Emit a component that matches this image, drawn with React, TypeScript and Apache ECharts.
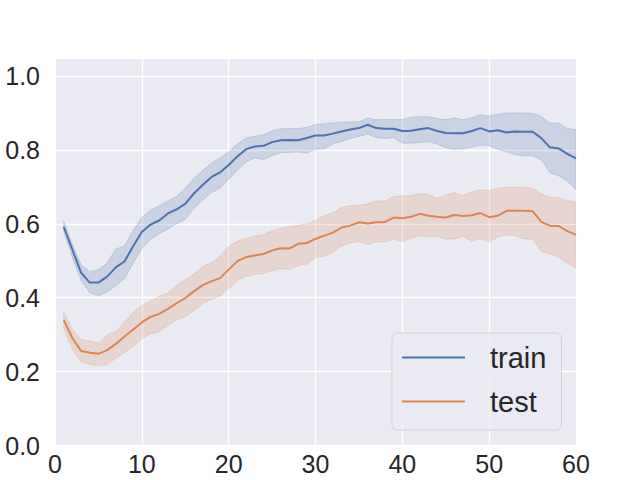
import React, { useEffect, useRef } from "react";
import * as echarts from "echarts";

const epochs = [
  1, 2, 3, 4, 5, 6, 7, 8, 9, 10, 11, 12, 13, 14, 15, 16, 17, 18, 19, 20,
  21, 22, 23, 24, 25, 26, 27, 28, 29, 30, 31, 32, 33, 34, 35, 36, 37, 38, 39, 40,
  41, 42, 43, 44, 45, 46, 47, 48, 49, 50, 51, 52, 53, 54, 55, 56, 57, 58, 59, 60,
];

const trainMean = [
  0.592, 0.53, 0.468, 0.441, 0.441, 0.457, 0.482, 0.498, 0.539, 0.578,
  0.598, 0.609, 0.628, 0.639, 0.654, 0.682, 0.705, 0.726, 0.739, 0.759,
  0.782, 0.802, 0.809, 0.811, 0.821, 0.826, 0.827, 0.826, 0.832, 0.839,
  0.839, 0.844, 0.85, 0.855, 0.859, 0.868, 0.859, 0.857, 0.857, 0.851,
  0.852, 0.856, 0.859, 0.851, 0.846, 0.845, 0.845, 0.851, 0.859, 0.85,
  0.853, 0.847, 0.85, 0.849, 0.849, 0.832, 0.807, 0.804, 0.789, 0.777,
];
const trainUpper = [
  0.607, 0.545, 0.49, 0.471, 0.476, 0.494, 0.532, 0.54, 0.582, 0.617,
  0.637, 0.649, 0.662, 0.674, 0.696, 0.723, 0.744, 0.764, 0.778, 0.795,
  0.816, 0.832, 0.837, 0.841, 0.852, 0.857, 0.858, 0.858, 0.861, 0.869,
  0.871, 0.873, 0.875, 0.876, 0.876, 0.886, 0.882, 0.882, 0.882, 0.883,
  0.888, 0.89, 0.89, 0.885, 0.882, 0.886, 0.882, 0.887, 0.895, 0.892,
  0.896, 0.9, 0.9, 0.9, 0.899, 0.891, 0.872, 0.873, 0.858, 0.855,
];
const trainLower = [
  0.579, 0.509, 0.447, 0.414, 0.405, 0.415, 0.432, 0.452, 0.493, 0.533,
  0.558, 0.573, 0.586, 0.6, 0.612, 0.642, 0.664, 0.684, 0.697, 0.72,
  0.745, 0.767, 0.778, 0.774, 0.784, 0.792, 0.793, 0.794, 0.791, 0.802,
  0.803, 0.816, 0.823, 0.831, 0.836, 0.843, 0.833, 0.831, 0.833, 0.818,
  0.818, 0.82, 0.822, 0.816, 0.806, 0.802, 0.803, 0.807, 0.813, 0.811,
  0.802, 0.794, 0.787, 0.784, 0.784, 0.773, 0.738, 0.73, 0.716, 0.692,
];

const testMean = [
  0.34, 0.291, 0.256, 0.251, 0.248, 0.258, 0.275, 0.295, 0.314, 0.333,
  0.348, 0.356, 0.37, 0.385, 0.399, 0.417, 0.434, 0.444, 0.453, 0.476,
  0.499, 0.51, 0.514, 0.518, 0.528, 0.534, 0.533, 0.546, 0.548, 0.559,
  0.568, 0.576, 0.59, 0.595, 0.604, 0.601, 0.604, 0.605, 0.617, 0.615,
  0.619, 0.627, 0.622, 0.619, 0.617, 0.624, 0.621, 0.623, 0.629, 0.618,
  0.622, 0.635, 0.635, 0.635, 0.634, 0.605, 0.595, 0.594, 0.58, 0.57,
];
const testUpper = [
  0.361, 0.315, 0.286, 0.283, 0.277, 0.3, 0.308, 0.334, 0.36, 0.379,
  0.391, 0.404, 0.413, 0.433, 0.449, 0.465, 0.483, 0.495, 0.512, 0.539,
  0.552, 0.561, 0.566, 0.57, 0.582, 0.588, 0.592, 0.596, 0.6, 0.609,
  0.622, 0.629, 0.645, 0.649, 0.65, 0.654, 0.662, 0.662, 0.674, 0.676,
  0.676, 0.681, 0.679, 0.669, 0.678, 0.685, 0.676, 0.687, 0.692, 0.69,
  0.696, 0.699, 0.699, 0.699, 0.696, 0.681, 0.672, 0.67, 0.663, 0.658,
];
const testLower = [
  0.317, 0.262, 0.226, 0.219, 0.216, 0.219, 0.236, 0.251, 0.268, 0.288,
  0.302, 0.308, 0.325, 0.34, 0.349, 0.365, 0.384, 0.396, 0.404, 0.425,
  0.446, 0.458, 0.463, 0.466, 0.473, 0.479, 0.476, 0.487, 0.491, 0.508,
  0.512, 0.524, 0.539, 0.548, 0.552, 0.543, 0.552, 0.55, 0.559, 0.552,
  0.561, 0.568, 0.565, 0.566, 0.558, 0.559, 0.566, 0.552, 0.561, 0.55,
  0.565, 0.57, 0.568, 0.559, 0.559, 0.525, 0.519, 0.51, 0.494, 0.48,
];

const seriesNames = ["train", "test"];
const xTicks = { min: 0, max: 60, interval: 10 };
const yTicks = { min: 0, max: 1.046, interval: 0.2 };

const BLUE = "#4C72B0";
const ORANGE = "#DD8452";
const BLUE_BAND = "rgba(76,114,176,0.2)";
const ORANGE_BAND = "rgba(221,132,82,0.2)";
const FONT = "'Liberation Sans', Arial, sans-serif";
const TEXT = "#262626";

function pairs(ys: number[]) {
  return epochs.map((x, i) => [x, ys[i]]);
}

function bandSeries(lo: number[], hi: number[], color: string) {
  return {
    type: "custom",
    silent: true,
    clip: true,
    z: 1,
    data: epochs.map((x, i) => [x, lo[i], hi[i]]),
    encode: { x: 0, y: [1, 2] },
    renderItem: (params: any, api: any) => {
      if (params.dataIndex !== 0) return null;
      const top = epochs.map((x, i) => api.coord([x, hi[i]]));
      const bottom = epochs.map((x, i) => api.coord([x, lo[i]])).reverse();
      return {
        type: "polygon",
        shape: { points: top.concat(bottom) },
        style: { fill: color, stroke: color, lineWidth: 1 },
      };
    },
  };
}

export default function App() {
  const ref = useRef<HTMLDivElement>(null);

  useEffect(() => {
    if (!ref.current) return;
    const chart = echarts.init(ref.current, undefined, { renderer: "svg" });
    chart.setOption({
      animation: false,
      backgroundColor: "#ffffff",
      textStyle: { fontFamily: FONT },
      grid: {
        left: 55,
        right: 64,
        top: 59,
        bottom: 34.5,
        show: true,
        backgroundColor: "#EAEAF2",
        borderWidth: 0,
        containLabel: false,
      },
      xAxis: {
        type: "value",
        min: xTicks.min,
        max: xTicks.max,
        interval: xTicks.interval,
        axisLine: { show: false },
        axisTick: { show: false },
        splitLine: { show: true, lineStyle: { color: "#ffffff", width: 1.3 } },
        axisLabel: {
          fontSize: 25,
          color: TEXT,
          fontFamily: FONT,
          margin: 6,
        },
      },
      yAxis: {
        type: "value",
        min: yTicks.min,
        max: yTicks.max,
        interval: yTicks.interval,
        axisLine: { show: false },
        axisTick: { show: false },
        splitLine: {
          show: true,
          showMaxLine: false,
          lineStyle: { color: "#ffffff", width: 1.3 },
        },
        axisLabel: {
          fontSize: 25,
          color: TEXT,
          fontFamily: FONT,
          margin: 15,
          showMaxLabel: false,
          formatter: (v: number) => v.toFixed(1),
        },
      },
      legend: {
        data: seriesNames.map((n) => ({ name: n, icon: "rect" })),
        orient: "vertical",
        left: 392,
        top: 333,
        padding: [10, 15, 14, 10],
        itemWidth: 63,
        itemHeight: 2,
        itemGap: 15,
        backgroundColor: "rgba(234,234,242,0.8)",
        borderColor: "rgba(204,204,204,0.8)",
        borderWidth: 1,
        borderRadius: 5,
        selectedMode: false,
        textStyle: {
          fontSize: 29,
          lineHeight: 29,
          color: TEXT,
          fontFamily: FONT,
          padding: [0, 0, 0, 20],
        },
      },
      series: [
        bandSeries(trainLower, trainUpper, BLUE_BAND),
        bandSeries(testLower, testUpper, ORANGE_BAND),
        {
          name: seriesNames[0],
          type: "line",
          data: pairs(trainMean),
          symbol: "none",
          color: BLUE,
          lineStyle: { width: 2, color: BLUE },
          z: 3,
        },
        {
          name: seriesNames[1],
          type: "line",
          data: pairs(testMean),
          symbol: "none",
          color: ORANGE,
          lineStyle: { width: 2, color: ORANGE },
          z: 3,
        },
      ],
    });
    return () => chart.dispose();
  }, []);

  return (
    <div
      ref={ref}
      style={{ position: "absolute", left: 0, top: 0, width: 640, height: 480 }}
    />
  );
}
